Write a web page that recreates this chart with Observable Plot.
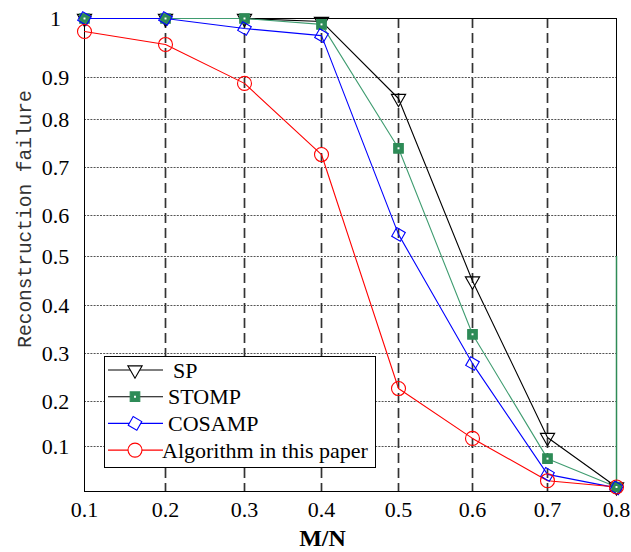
<!DOCTYPE html>
<html><head><meta charset="utf-8">
<script src="https://cdn.jsdelivr.net/npm/d3@7"></script>
<script src="https://cdn.jsdelivr.net/npm/@observablehq/plot@0.6"></script>
<style>body{margin:0;background:#fff} svg{display:block}</style>
</head><body><div id="chart"></div>
<script>
// ---- data ----
const xValues = [0.1, 0.2, 0.3, 0.4, 0.5, 0.6, 0.7, 0.8];
const spValues = [1, 1, 1, 0.995, 0.85, 0.45, 0.12, 0.01];
const stompValues = [1, 1, 1, 0.99, 0.74, 0.34, 0.073, 0.01];
const cosampValues = [1, 1, 0.983, 0.971, 0.554, 0.279, 0.038, 0.008];
const algoValues = [0.978, 0.956, 0.886, 0.727, 0.227, 0.118, 0.024, 0.01];
const seriesNames = ["SP", "STOMP", "COSAMP", "Algorithm in this paper"];
const xTicks = [0.1, 0.2, 0.3, 0.4, 0.5, 0.6, 0.7, 0.8];
const xTickLabels = ["0.1", "0.2", "0.3", "0.4", "0.5", "0.6", "0.7", "0.8"];
const yTicks = [0.1, 0.2, 0.3, 0.4, 0.5, 0.6, 0.7, 0.8, 0.9, 1];
const yTickLabels = ["0.1", "0.2", "0.3", "0.4", "0.5", "0.6", "0.7", "0.8", "0.9", "1"];
const xGrid = [0.2, 0.3, 0.4, 0.5, 0.6, 0.7];
const yGrid = [0.1, 0.2, 0.3, 0.4, 0.5, 0.6, 0.7, 0.8, 0.9];
const xTitle = "M/N";
const yTitle = "Reconstruction failure";

const allValues = [spValues, stompValues, cosampValues, algoValues];
const rows = seriesNames.flatMap((s, k) => xValues.map((x, i) => ({series: s, x, y: allValues[k][i]})));
const of = s => rows.filter(d => d.series === s);

const style = {
  "SP": {stroke: "#000000", symbol: "triangle", rotate: 180, r: 5.3, fill: "none"},
  "STOMP": {stroke: "#3f9c70", symbol: "square", rotate: 0, r: 5.4, fill: "#2e8b57", mstroke: "#2e8b57"},
  "COSAMP": {stroke: "#0000ff", symbol: "square", rotate: 30, r: 5.6, fill: "none"},
  "Algorithm in this paper": {stroke: "#ff0000", symbol: "circle", rotate: 0, r: 7, fill: "none"}
};

const serif = "Liberation Serif, Times New Roman, serif";

// the original figure's axes are not uniformly spaced: calibrate each tick to its drawn offset
const xCalib = d3.scaleLinear(xTicks, [0, 81, 160, 237, 314, 388, 463, 532]);
const yCalib = d3.scaleLinear([0, ...yTicks], [0, 45, 90, 138, 186, 235, 276, 324, 372, 414, 473]);

const marks = [
  Plot.ruleY(yGrid, {stroke: "#555", strokeWidth: 1, strokeDasharray: "2,1.2"}),
  Plot.ruleX(xGrid, {stroke: "#333", strokeWidth: 1.7, strokeDasharray: "10,5"}),
  Plot.frame({stroke: "#000", strokeWidth: 1}),
  Plot.ruleX([xValues[xValues.length - 1]], {y1: 0, y2: 0.5, stroke: "#2e8b57", strokeWidth: 1.5}),
  Plot.axisX(xTicks, {tickSize: 0, tickPadding: 10, fontSize: 22, fontFamily: serif,
    tickFormat: d => xTickLabels[xTicks.indexOf(d)], label: null}),
  Plot.axisY(yTicks, {tickSize: 0, tickPadding: 29, textAnchor: "middle", fontSize: 22, fontFamily: serif,
    tickFormat: d => yTickLabels[yTicks.indexOf(d)], label: null}),
  Plot.text([xTitle], {frameAnchor: "bottom", dy: 54, dx: -28, fontSize: 24, fontWeight: "bold", fontFamily: serif, fill: "#000"}),
  Plot.text([yTitle], {frameAnchor: "left", rotate: -90, textAnchor: "middle", dx: -60, dy: -36, fontSize: 19.5,
    fontFamily: "Liberation Mono, DejaVu Sans Mono, monospace", fill: "#333"})
];
for (const s of seriesNames) {
  const st = style[s];
  marks.push(Plot.line(of(s), {x: "x", y: "y", stroke: st.stroke, strokeWidth: 1.1}));
}
for (const s of seriesNames) {
  const st = style[s];
  marks.push(Plot.dot(of(s), {x: "x", y: "y", symbol: st.symbol, r: st.r, rotate: st.rotate,
    stroke: st.mstroke || st.stroke, fill: st.fill, strokeWidth: 1.1}));
  if (s === "STOMP") marks.push(Plot.dot(of(s), {x: "x", y: "y", symbol: "square", r: 1.1, fill: "white"}));
}

const chart = Plot.plot({
  width: 631, height: 552,
  marginLeft: 84, marginRight: 15, marginTop: 18, marginBottom: 61,
  style: {background: "white", color: "black", fontFamily: serif},
  x: {type: "linear", transform: xCalib, domain: [0, 532]},
  y: {type: "linear", transform: yCalib, domain: [0, 473]},
  marks
});
document.getElementById("chart").appendChild(chart);

// ---- legend (drawn over the grid, lower-left of the frame) ----
const svg = d3.select(chart);
const lg = svg.append("g").attr("text-anchor", "start");
lg.append("rect").attr("x", 104.5).attr("y", 356.5).attr("width", 271).attr("height", 111)
  .attr("fill", "white").attr("stroke", "#000").attr("stroke-width", 1);
const textX = [173, 168, 168, 162];
seriesNames.forEach((s, i) => {
  const st = style[s];
  const cy = 370 + i * 26.7;
  lg.append("line").attr("x1", 108).attr("x2", 163).attr("y1", cy).attr("y2", cy)
    .attr("stroke", s === "STOMP" ? "#000" : st.stroke).attr("stroke-width", 1.1);
  const symMap = {triangle: d3.symbolTriangle, square: d3.symbolSquare, circle: d3.symbolCircle};
  lg.append("path").attr("d", d3.symbol(symMap[st.symbol], Math.PI * st.r * st.r)())
    .attr("transform", `translate(135,${cy}) rotate(${st.rotate})`)
    .attr("fill", s === "STOMP" ? st.fill : "white").attr("stroke", st.mstroke || st.stroke).attr("stroke-width", 1.1);
  if (s === "STOMP") lg.append("path").attr("d", d3.symbol(d3.symbolSquare, Math.PI * 1.21)())
    .attr("transform", `translate(135,${cy})`).attr("fill", "white");
  lg.append("text").attr("x", textX[i]).attr("y", cy).attr("dy", "0.35em").attr("text-anchor", "start")
    .attr("font-family", serif).attr("font-size", 22).attr("fill", "#000").text(s);
});
</script>
</body></html>
